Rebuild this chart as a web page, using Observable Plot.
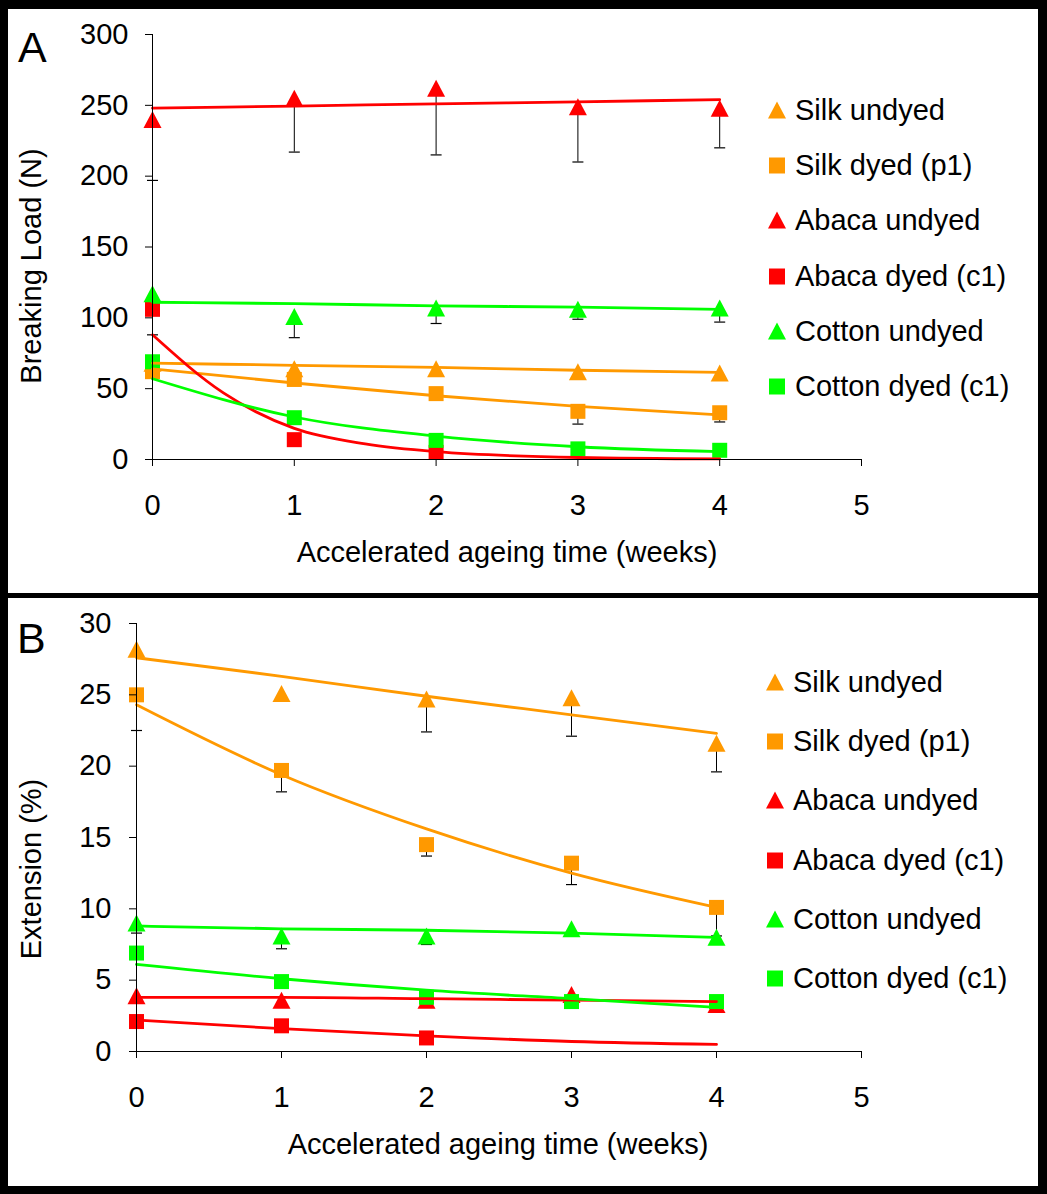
<!DOCTYPE html>
<html>
<head>
<meta charset="utf-8">
<script src="https://cdn.jsdelivr.net/npm/d3@7"></script>
<script src="https://cdn.jsdelivr.net/npm/@observablehq/plot@0.6"></script>
<style>
html, body { margin: 0; padding: 0; background: #000; }
#root { position: relative; width: 1047px; height: 1194px; background: #000; overflow: hidden;
  font-family: "Liberation Sans", Arial, sans-serif; color: #000; }
.panel { position: absolute; left: 8px; width: 1030px; background: #fff; overflow: hidden; }
.panel svg { position: absolute; left: 0; top: 0; }
.letter { position: absolute; font-size: 43px; line-height: 43px; }
.ytitle { position: absolute; white-space: nowrap; font-size: 29px; line-height: 29px;
  transform: translate(-50%, -50%) rotate(-90deg); }
.xtitle { position: absolute; white-space: nowrap; font-size: 29px; line-height: 29px;
  transform: translateX(-50%); }
.leg { position: absolute; height: 29px; }
.leg svg { position: absolute; left: 0; top: 5px; }
.leg span { position: absolute; left: 27px; top: 0; white-space: nowrap; font-size: 29px; line-height: 29px; }
</style>
</head>
<body>
<div id="root"></div>
<script>
// ---------------- data ----------------
const weeks = [0, 1, 2, 3, 4];
const xTicks = [0, 1, 2, 3, 4, 5];
const seriesNames = ["Silk undyed", "Silk dyed (p1)", "Abaca undyed", "Abaca dyed (c1)", "Cotton undyed", "Cotton dyed (c1)"];
const seriesColors = ["#FF9900", "#FF9900", "#FF0000", "#FF0000", "#00FF00", "#00FF00"];
const seriesShapes = ["triangle", "square", "triangle", "square", "triangle", "square"];
const trendWeeks = [0, 1, 2, 3, 4];

// Panel A: Breaking load (N)
const loadTicks = [0, 50, 100, 150, 200, 250, 300];
const loadSilkUndyed = [68, 64, 64, 62, 61];
const loadSilkDyed = [62, 56.5, 46.5, 34, 33];
const loadAbacaUndyed = [240, 255, 262, 249, 248];
const loadAbacaDyed = [106, 14, 5];
const loadCottonUndyed = [117, 101, 107, 106, 107];
const loadCottonDyed = [69, 29.5, 13.5, 7.5, 6.5];
// downward error bars (N)
const loadErrSilkUndyed = [0, 0, 0, 0, 0];
const loadErrSilkDyed = [0, 0, 0, 9, 6.5];
const loadErrAbacaUndyed = [43, 38, 47, 39, 28];
const loadErrAbacaDyed = [18, 0, 0];
const loadErrCottonUndyed = [0, 15, 11, 7, 10];
const loadErrCottonDyed = [0, 0, 0, 0, 0];
// trend lines (N)
const loadTrendSilkUndyed = [68, 66.5, 65, 63, 61.5];
const loadTrendSilkDyed = [64, 54, 45, 37.5, 31.5];
const loadTrendAbacaUndyed = [248, 249.5, 251, 252.5, 254];
const loadTrendAbacaDyedWeeks = [0, 0.5, 1, 1.5, 2, 3, 4];
const loadTrendAbacaDyed = [88, 47, 22, 11, 5.5, 1.4, 0.4];
const loadTrendCottonUndyed = [111, 110, 108.5, 107.5, 106];
const loadTrendCottonDyed = [57, 30, 16.5, 9, 5.5];

// Panel B: Extension (%)
const extTicks = [0, 5, 10, 15, 20, 25, 30];
const extSilkUndyed = [28.2, 25.1, 24.7, 24.8, 21.6];
const extSilkDyed = [25.0, 19.7, 14.5, 13.2, 10.1];
const extAbacaUndyed = [3.9, 3.6, 3.6, 4.0, 3.3];
const extAbacaDyed = [2.1, 1.8, 0.95];
const extCottonUndyed = [9.0, 8.1, 8.1, 8.6, 8.0];
const extCottonDyed = [6.9, 4.9, 3.8, 3.5, 3.5];
// downward error bars (%)
const extErrSilkUndyed = [0, 0, 2.3, 2.7, 2.0];
const extErrSilkDyed = [2.5, 1.5, 0.8, 1.5, 2.0];
const extErrAbacaUndyed = [0, 0, 0, 0, 0];
const extErrAbacaDyed = [0, 0, 0];
const extErrCottonUndyed = [0.7, 0.9, 0.6, 0, 0];
const extErrCottonDyed = [0, 0, 0.6, 0, 0];
// trend lines (%)
const extTrendSilkUndyed = [27.6, 26.3, 24.9, 23.6, 22.3];
const extTrendSilkDyed = [24.3, 19.4, 15.6, 12.5, 10.1];
const extTrendAbacaUndyed = [3.8, 3.8, 3.7, 3.6, 3.5];
const extTrendAbacaDyed = [2.2, 1.6, 1.1, 0.7, 0.5];
const extTrendCottonUndyed = [8.8, 8.6, 8.5, 8.3, 8.0];
const extTrendCottonDyed = [6.1, 5.1, 4.3, 3.7, 3.1];

// ---------------- symbols ----------------
const triSymbol = { draw(ctx) { ctx.moveTo(0, -8.5); ctx.lineTo(9, 8.5); ctx.lineTo(-9, 8.5); ctx.closePath(); } };
const sqSymbol = { draw(ctx) { ctx.rect(-7.5, -7.5, 15, 15); } };
const capSymbol = { draw(ctx) { ctx.moveTo(-5.5, 0); ctx.lineTo(5.5, 0); } };

function makeSeries(values, errs, trend, trendX) {
  return seriesNames.map((name, k) => ({
    name, color: seriesColors[k], shape: seriesShapes[k],
    values: values[k], errs: errs[k], trend: trend[k], trendX: trendX[k]
  }));
}

const seriesA = makeSeries(
  [loadSilkUndyed, loadSilkDyed, loadAbacaUndyed, loadAbacaDyed, loadCottonUndyed, loadCottonDyed],
  [loadErrSilkUndyed, loadErrSilkDyed, loadErrAbacaUndyed, loadErrAbacaDyed, loadErrCottonUndyed, loadErrCottonDyed],
  [loadTrendSilkUndyed, loadTrendSilkDyed, loadTrendAbacaUndyed, loadTrendAbacaDyed, loadTrendCottonUndyed, loadTrendCottonDyed],
  [trendWeeks, trendWeeks, trendWeeks, loadTrendAbacaDyedWeeks, trendWeeks, trendWeeks]
);
const seriesB = makeSeries(
  [extSilkUndyed, extSilkDyed, extAbacaUndyed, extAbacaDyed, extCottonUndyed, extCottonDyed],
  [extErrSilkUndyed, extErrSilkDyed, extErrAbacaUndyed, extErrAbacaDyed, extErrCottonUndyed, extErrCottonDyed],
  [extTrendSilkUndyed, extTrendSilkDyed, extTrendAbacaUndyed, extTrendAbacaDyed, extTrendCottonUndyed, extTrendCottonDyed],
  [trendWeeks, trendWeeks, trendWeeks, trendWeeks, trendWeeks, trendWeeks]
);

function buildPlot(o) {
  const marks = [];
  const errRows = [];
  o.series.forEach(s => s.values.forEach((v, i) => {
    if (s.errs[i] > 0) errRows.push({ x: weeks[i], y1: v, y2: v - s.errs[i] });
  }));
  marks.push(Plot.ruleX(errRows, { x: "x", y1: "y1", y2: "y2", stroke: "black", strokeWidth: 1 }));
  marks.push(Plot.dot(errRows, { x: "x", y: "y2", symbol: capSymbol, fill: "none", stroke: "black", strokeWidth: 1.2 }));
  o.series.forEach(s => {
    const rows = s.values.map((v, i) => ({ x: weeks[i], y: v }));
    marks.push(Plot.dot(rows, { x: "x", y: "y", symbol: s.shape === "triangle" ? triSymbol : sqSymbol, fill: s.color, stroke: "none" }));
  });
  o.series.forEach(s => {
    const rows = s.trend.map((v, i) => ({ x: s.trendX[i], y: v }));
    marks.push(Plot.line(rows, { x: "x", y: "y", stroke: s.color, strokeWidth: 2.8, curve: "monotone-x" }));
  });
  marks.push(Plot.axisX({ ticks: xTicks, tickSize: 7, tickPadding: 28, tickFormat: d => String(d), label: null, stroke: "black" }));
  marks.push(Plot.axisY({ ticks: o.yTicks, tickSize: 7, tickPadding: o.yPad, tickFormat: d => String(d), label: null, stroke: "black" }));
  marks.push(Plot.ruleY([o.yTicks[0]], { stroke: "black", strokeWidth: 1 }));
  marks.push(Plot.ruleX([0], { stroke: "black", strokeWidth: 1 }));
  return Plot.plot({
    width: 1030, height: o.height,
    marginLeft: o.ml, marginRight: 177, marginTop: 25, marginBottom: o.mb,
    style: { fontFamily: '"Liberation Sans", Arial, sans-serif', fontSize: "29px", background: "transparent", color: "black", overflow: "visible" },
    x: { domain: [0, 5] },
    y: { domain: [o.yTicks[0], o.yTicks[o.yTicks.length - 1]] },
    color: { type: "identity" },
    marks
  });
}

function legendSwatch(shape, color) {
  const ns = "http://www.w3.org/2000/svg";
  const svg = document.createElementNS(ns, "svg");
  svg.setAttribute("width", 18); svg.setAttribute("height", 18);
  const p = document.createElementNS(ns, "path");
  p.setAttribute("d", shape === "triangle" ? "M9,0.5L18,17.5L0,17.5Z" : "M1,1.5H17V17.5H1Z");
  p.setAttribute("fill", color);
  svg.appendChild(p);
  return svg;
}

function buildPanel(o) {
  const root = document.getElementById("root");
  const panel = document.createElement("div");
  panel.className = "panel";
  panel.style.top = o.top + "px";
  panel.style.height = o.height + "px";
  root.appendChild(panel);
  panel.appendChild(buildPlot(o));

  const letter = document.createElement("div");
  letter.className = "letter"; letter.textContent = o.letter;
  letter.style.left = o.letterX + "px"; letter.style.top = o.letterY + "px";
  panel.appendChild(letter);

  const yt = document.createElement("div");
  yt.className = "ytitle"; yt.textContent = o.yTitle;
  yt.style.left = "23px"; yt.style.top = o.yTitleY + "px";
  panel.appendChild(yt);

  const xt = document.createElement("div");
  xt.className = "xtitle"; xt.textContent = "Accelerated ageing time (weeks)";
  xt.style.left = o.xTitleX + "px"; xt.style.top = o.xTitleY + "px";
  panel.appendChild(xt);

  o.series.forEach((s, i) => {
    const row = document.createElement("div");
    row.className = "leg";
    row.style.left = o.legX + "px";
    row.style.top = (o.legY + i * o.legStep - 14) + "px";
    row.appendChild(legendSwatch(s.shape, s.color));
    const sp = document.createElement("span");
    sp.textContent = s.name;
    row.appendChild(sp);
    panel.appendChild(row);
  });
}

buildPanel({ top: 9, height: 584, ml: 144, mb: 134, yTicks: loadTicks, yPad: 17, series: seriesA,
  letter: "A", letterX: 10, letterY: 17, yTitle: "Breaking Load (N)", yTitleY: 257,
  xTitleX: 499, xTitleY: 529, legX: 760, legY: 101, legStep: 55.2 });
buildPanel({ top: 598, height: 588, ml: 128, mb: 135, yTicks: extTicks, yPad: 18, series: seriesB,
  letter: "B", letterX: 9, letterY: 19, yTitle: "Extension (%)", yTitleY: 271,
  xTitleX: 490, xTitleY: 532, legX: 758, legY: 84, legStep: 59.2 });
</script>
</body>
</html>
